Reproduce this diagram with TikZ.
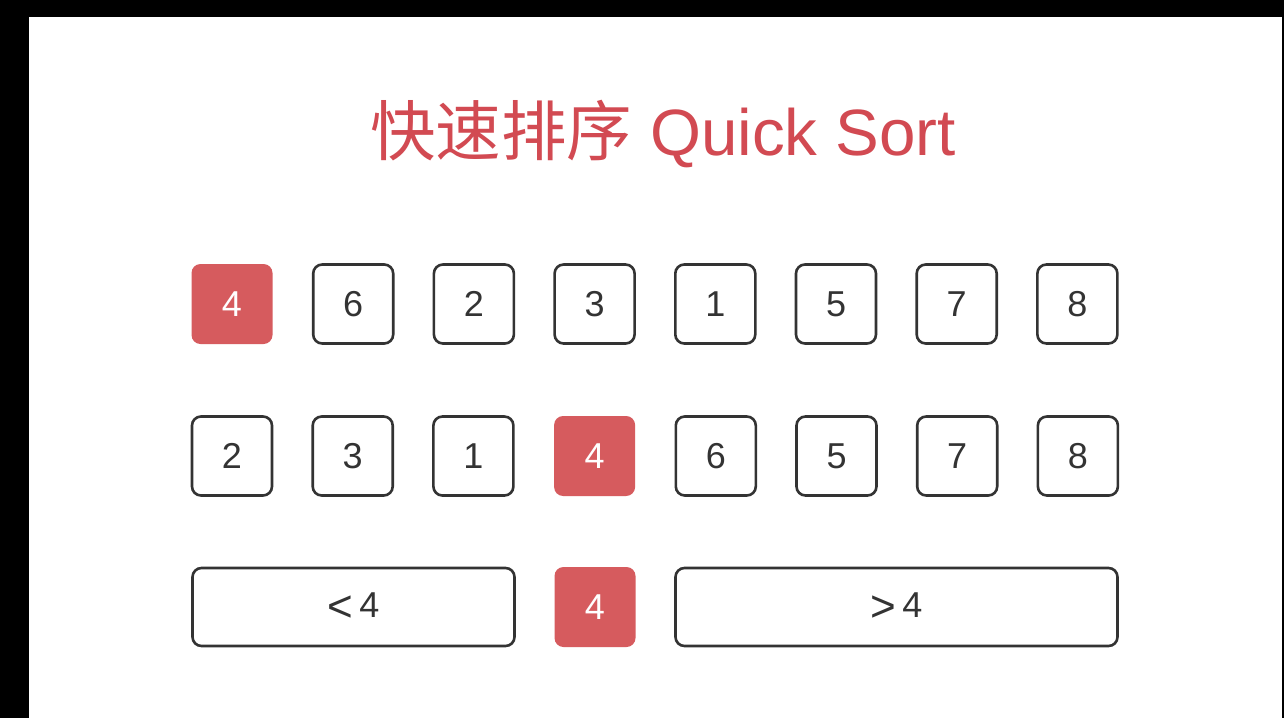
\documentclass[tikz,border=0pt]{standalone}
\usepackage{fontspec}
\setmainfont{Liberation Sans}
\newfontfamily\cjk{Noto Sans CJK SC}
\usetikzlibrary{positioning}
\definecolor{pivotred}{HTML}{D65B5E}
\definecolor{titlered}{HTML}{D24A52}
\definecolor{edgegray}{HTML}{333333}
\newcommand{\bigrel}[1]{\raisebox{-4pt}{\fontsize{44}{48}\selectfont#1}}

\begin{document}
\begin{tikzpicture}[
    x=1pt, y=-1pt,
    node distance=40.7pt,
    cell/.style={rectangle, draw=edgegray, line width=2.6pt, rounded corners=9pt, minimum width=80pt, minimum height=79pt, inner sep=0pt, outer sep=0pt, text=edgegray, font=\fontsize{36}{40}\selectfont},
    pivot/.style={cell, draw=none, fill=pivotred, text=white, minimum width=81pt, minimum height=80pt},
    rangebox/.style={cell, minimum height=78pt}
]

    % Frame
    \fill [black] (0,0) rectangle (1284,718);
    \fill [white] (29,17) rectangle (1282,718);
    \useasboundingbox (0,0) rectangle (1284,718);

    % Title
    \node [text=titlered, font=\fontsize{65.5}{72}\selectfont] (title) at (663,134) {{\cjk 快速排序} Quick Sort};

    % First row
    \node [pivot] (a1) at (232,304) {4};
    \node [cell, right=of a1] (a2) {6};
    \node [cell, right=of a2] (a3) {2};
    \node [cell, right=of a3] (a4) {3};
    \node [cell, right=of a4] (a5) {1};
    \node [cell, right=of a5] (a6) {5};
    \node [cell, right=of a6] (a7) {7};
    \node [cell, right=of a7] (a8) {8};

    % Second row (after partition)
    \node [cell] (b1) at (232,456) {2};
    \node [cell, right=of b1] (b2) {3};
    \node [cell, right=of b2] (b3) {1};
    \node [pivot, right=of b3] (b4) {4};
    \node [cell, right=of b4] (b5) {6};
    \node [cell, right=of b5] (b6) {5};
    \node [cell, right=of b6] (b7) {7};
    \node [cell, right=of b7] (b8) {8};

    % Third row
    \node [pivot] (c2) at (595,607) {4};
    \node [rangebox, minimum width=322pt, left=40pt of c2] (lower) {\bigrel{<}\,4};
    \node [rangebox, minimum width=442pt, right=40pt of c2] (upper) {\bigrel{>}\,4};

\end{tikzpicture}
\end{document}
